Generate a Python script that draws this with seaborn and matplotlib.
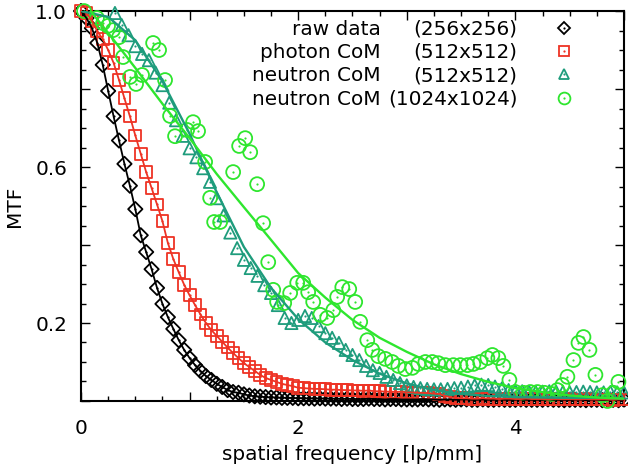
import numpy as np
import matplotlib
matplotlib.use("Agg")
import matplotlib.pyplot as plt
from matplotlib.lines import Line2D
from matplotlib.ticker import MultipleLocator, FuncFormatter
import seaborn as sns

# ---- data (MTF vs spatial frequency [lp/mm]) ----

# raw data (256x256): uniform frequency sampling
raw_start, raw_step = 0.0, 0.05
raw_mtf = [1.0, 0.982, 0.956, 0.918, 0.862, 0.795, 0.730, 0.668, 0.608, 0.552,
           0.492, 0.425, 0.382, 0.338, 0.290, 0.249, 0.215, 0.185, 0.156, 0.131,
           0.110, 0.092, 0.077, 0.064, 0.054, 0.044, 0.036, 0.028, 0.023, 0.021,
           0.017, 0.014, 0.012, 0.011, 0.010, 0.009, 0.009, 0.008, 0.008, 0.008,
           0.007, 0.007, 0.007, 0.006, 0.007, 0.006, 0.006, 0.006, 0.005, 0.006,
           0.005, 0.005, 0.005, 0.006, 0.005, 0.005, 0.004, 0.005, 0.005, 0.004,
           0.004, 0.004, 0.004, 0.005, 0.004, 0.004, 0.003, 0.004, 0.004, 0.003,
           0.004, 0.004, 0.003, 0.003, 0.004, 0.003, 0.003, 0.004, 0.003, 0.003,
           0.003, 0.004, 0.003, 0.003, 0.003, 0.003, 0.004, 0.003, 0.003, 0.002,
           0.003, 0.003, 0.003, 0.002, 0.003, 0.003, 0.002, 0.003, 0.003, 0.002,
           0.003]

# photon CoM (512x512)
photon_start, photon_step = 0.0, 0.05
photon_mtf = [1.0, 0.995, 0.975, 0.948, 0.928, 0.900, 0.867, 0.823, 0.776, 0.730,
              0.681, 0.634, 0.587, 0.546, 0.504, 0.461, 0.405, 0.364, 0.330, 0.298,
              0.271, 0.246, 0.222, 0.200, 0.182, 0.167, 0.152, 0.137, 0.123, 0.110,
              0.097, 0.087, 0.077, 0.067, 0.059, 0.054, 0.049, 0.044, 0.041, 0.038,
              0.034, 0.033, 0.032, 0.031, 0.031, 0.030, 0.029, 0.029, 0.028, 0.028,
              0.027, 0.027, 0.026, 0.027, 0.025, 0.025, 0.024, 0.024, 0.023, 0.024,
              0.022, 0.022, 0.021, 0.021, 0.020, 0.019, 0.018, 0.013, 0.010, 0.008,
              0.007, 0.007, 0.006, 0.006, 0.007, 0.006, 0.006, 0.005, 0.006, 0.006,
              0.005, 0.005, 0.006, 0.005, 0.005, 0.005, 0.004, 0.005, 0.005, 0.004,
              0.005, 0.004, 0.004, 0.005, 0.004, 0.004, 0.004, 0.004, 0.003, 0.004,
              0.004]

# neutron CoM (512x512)
neutron_start, neutron_step = 0.3125, 0.0625
neutron_mtf = [0.995, 0.964, 0.938, 0.910, 0.890, 0.874, 0.842, 0.810, 0.765, 0.720,
               0.680, 0.648, 0.625, 0.597, 0.562, 0.520, 0.476, 0.432, 0.392, 0.362,
               0.341, 0.321, 0.297, 0.277, 0.246, 0.213, 0.200, 0.208, 0.218, 0.213,
               0.192, 0.174, 0.162, 0.149, 0.131, 0.118, 0.105, 0.090, 0.079, 0.072,
               0.062, 0.054, 0.046, 0.040, 0.036, 0.033, 0.031, 0.030, 0.030, 0.031,
               0.033, 0.034, 0.037, 0.040, 0.042, 0.041, 0.037, 0.032, 0.028, 0.026,
               0.025, 0.024, 0.023, 0.024, 0.025, 0.024, 0.023, 0.022, 0.023, 0.024,
               0.023, 0.022, 0.022, 0.023, 0.022, 0.022]

# neutron CoM (1024x1024), irregular points
fine_freq = [0.028, 0.147, 0.203, 0.249, 0.295, 0.350, 0.387, 0.452, 0.507, 0.562,
             0.664, 0.719, 0.774, 0.820, 0.866, 0.977, 1.032, 1.078, 1.143, 1.189,
             1.226, 1.281, 1.401, 1.456, 1.512, 1.558, 1.622, 1.677, 1.724, 1.770,
             1.806, 1.871, 1.926, 1.991, 2.046, 2.092, 2.138, 2.203, 2.267, 2.323,
             2.359, 2.406, 2.470, 2.525, 2.571, 2.636, 2.682, 2.737, 2.802, 2.866,
             2.922, 2.986, 3.051, 3.106, 3.171, 3.235, 3.290, 3.355, 3.429, 3.493,
             3.558, 3.613, 3.677, 3.742, 3.788, 3.843, 3.889, 3.945, 4.000, 4.074,
             4.138, 4.203, 4.267, 4.332, 4.387, 4.433, 4.479, 4.535, 4.581, 4.627,
             4.682, 4.737, 4.802, 4.848, 4.903, 4.949]
fine_mtf = [1.0, 0.982, 0.969, 0.962, 0.951, 0.933, 0.882, 0.831, 0.813, 0.836,
            0.918, 0.900, 0.823, 0.731, 0.679, 0.695, 0.715, 0.692, 0.613, 0.521,
            0.459, 0.459, 0.587, 0.654, 0.674, 0.638, 0.556, 0.456, 0.356, 0.285,
            0.254, 0.251, 0.277, 0.303, 0.303, 0.279, 0.254, 0.221, 0.213, 0.233,
            0.267, 0.292, 0.287, 0.254, 0.203, 0.156, 0.131, 0.115, 0.108, 0.100,
            0.090, 0.082, 0.085, 0.095, 0.100, 0.100, 0.097, 0.092, 0.092, 0.092,
            0.092, 0.095, 0.100, 0.110, 0.118, 0.110, 0.090, 0.054, 0.023, 0.021,
            0.023, 0.023, 0.021, 0.018, 0.028, 0.041, 0.062, 0.105, 0.149, 0.164,
            0.131, 0.067, 0.015, 0.0, 0.021, 0.049]

# fitted curves
fit_freq = [0.0, 0.25, 0.5, 0.75, 1.0, 1.25, 1.5, 1.75, 2.0, 2.25, 2.5,
            2.75, 3.0, 3.25, 3.5, 3.75, 4.0, 4.25, 4.5, 4.75, 5.0]
neutron_fit = [1.0, 0.985, 0.925, 0.82, 0.685, 0.535, 0.395, 0.29, 0.21, 0.15, 0.105,
               0.07, 0.045, 0.028, 0.018, 0.013, 0.010, 0.009, 0.008, 0.008, 0.007]
fine_fit = [1.03, 0.944, 0.854, 0.762, 0.674, 0.582, 0.497, 0.413, 0.328, 0.265, 0.208,
            0.162, 0.126, 0.094, 0.069, 0.049, 0.033, 0.023, 0.014, 0.009, 0.006]

names = ["raw data", "photon CoM", "neutron CoM", "neutron CoM"]
sizes = ["(256x256)", "(512x512)", "(512x512)", "(1024x1024)"]
colors = ["#000000", "#ee3324", "#1e9c7c", "#2ee62e"]
markers = ["D", "s", "^", "o"]
msizes = [7.3, 8.5, 8.8, 10.0]

raw_freq = raw_start + raw_step * np.arange(len(raw_mtf))
photon_freq = photon_start + photon_step * np.arange(len(photon_mtf))
neutron_freq = neutron_start + neutron_step * np.arange(len(neutron_mtf))

series = [(raw_freq, raw_mtf), (photon_freq, photon_mtf),
          (neutron_freq, neutron_mtf), (fine_freq, fine_mtf)]

FS = 14.4
plt.rcParams['font.family'] = ['DejaVu Sans']
fig, ax = plt.subplots(figsize=(6.28, 4.69), dpi=100)
fig.subplots_adjust(left=0.129, right=0.9936, bottom=0.145, top=0.9765)

for (fx, fy), col, mk, ms in zip(series, colors, markers, msizes):
    sns.scatterplot(x=fx, y=fy, marker=mk, s=ms ** 2, facecolor="none",
                    edgecolor=col, linewidth=1.3, ax=ax, clip_on=False, zorder=3)
    sns.scatterplot(x=fx, y=fy, marker="o", s=2.5, color=col, linewidth=0,
                    ax=ax, clip_on=False, zorder=3)

# lines: raw and photon through the points, neutron ones are fits
sns.lineplot(x=raw_freq, y=raw_mtf, color=colors[0], lw=1.3, sort=False,
             estimator=None, ax=ax, zorder=4)
sns.lineplot(x=photon_freq, y=photon_mtf, color=colors[1], lw=1.3, sort=False,
             estimator=None, ax=ax, zorder=4)
sns.lineplot(x=fit_freq, y=neutron_fit, color=colors[2], lw=1.7, sort=False,
             estimator=None, ax=ax, zorder=4)
sns.lineplot(x=fit_freq, y=fine_fit, color=colors[3], lw=1.7, sort=False,
             estimator=None, ax=ax, zorder=4)

ax.set_xlim(0, 5)
ax.set_ylim(0, 1)
ax.xaxis.set_major_locator(MultipleLocator(1))
ax.xaxis.set_minor_locator(MultipleLocator(0.25))
ax.yaxis.set_major_locator(MultipleLocator(0.2))
ax.yaxis.set_minor_locator(MultipleLocator(0.05))
ax.xaxis.set_major_formatter(FuncFormatter(
    lambda v, p: f"{v:.0f}" if round(v) % 2 == 0 else ""))
ax.yaxis.set_major_formatter(FuncFormatter(
    lambda v, p: f"{v:.1f}" if round(v * 10) in (2, 6, 10) else ""))
ax.tick_params(which="both", direction="in", top=True, right=True,
               labelsize=FS, width=1.0)
ax.tick_params(which="major", length=6.5)
ax.tick_params(which="minor", length=3.8)
ax.tick_params(axis="x", pad=13)
ax.tick_params(axis="y", pad=10)
for sp in ax.spines.values():
    sp.set_linewidth(1.5)

ax.set_xlabel("spatial frequency [lp/mm]", fontsize=FS, labelpad=5)
ax.set_ylabel("MTF", fontsize=FS, labelpad=8)

# legend: marker + size column, then names column
handles = []
for col, mk, ms in zip(colors, markers, msizes):
    h1 = Line2D([], [], linestyle="none", marker=mk, markersize=ms * 0.85,
                markerfacecolor="none", markeredgecolor=col, markeredgewidth=1.3)
    h2 = Line2D([], [], linestyle="none", marker="o", markersize=1.6,
                markerfacecolor=col, markeredgewidth=0)
    handles.append((h1, h2))
leg1 = ax.legend(handles, sizes, loc="upper right", bbox_to_anchor=(0.9087, 0.978),
                 markerfirst=False, frameon=False, borderpad=0, borderaxespad=0,
                 handlelength=1.0, handletextpad=1.85, labelspacing=0.215, fontsize=FS)
ax.add_artist(leg1)
blank = [Line2D([], [], linestyle="none") for _ in names]
ax.legend(blank, names, loc="upper right", bbox_to_anchor=(0.5525, 0.978),
          markerfirst=False, frameon=False, borderpad=0, borderaxespad=0,
          handlelength=0, handletextpad=0, labelspacing=0.215, fontsize=FS)

fig.savefig("out.png", dpi=100)
